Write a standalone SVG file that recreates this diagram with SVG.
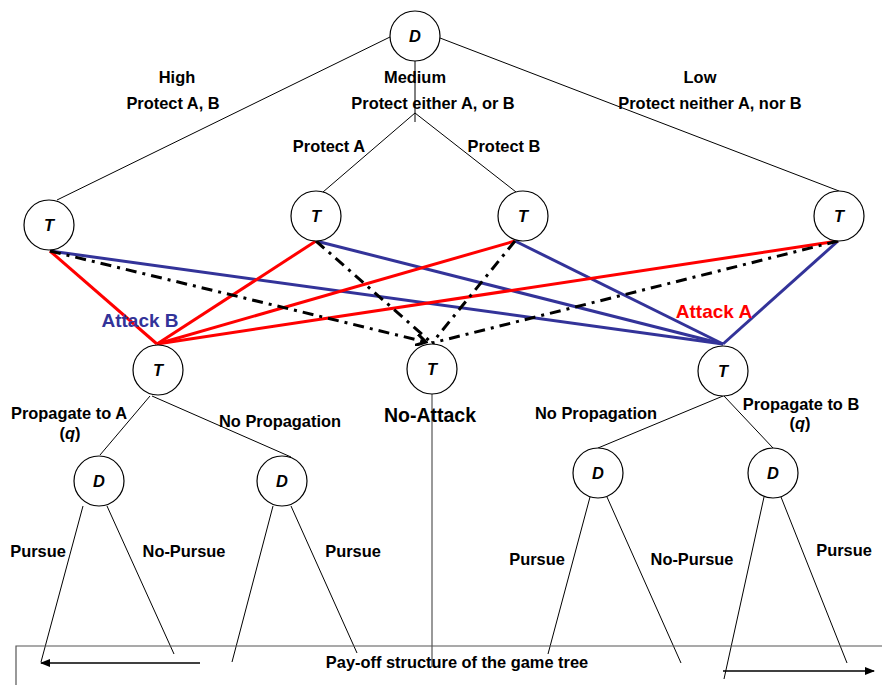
<svg xmlns="http://www.w3.org/2000/svg" width="882" height="685" viewBox="0 0 882 685">
<style>
text{font-family:"Liberation Sans",Arial,sans-serif;font-weight:bold;font-size:16.4px;fill:#000;text-anchor:middle}
.n circle{fill:#fff;stroke:#000;stroke-width:1.2}
.n text{font-style:italic}
.e{stroke:#000;stroke-width:1;fill:none}
.r{stroke:#ff0000;stroke-width:3;fill:none}
.b{stroke:#333399;stroke-width:3;fill:none}
.k{stroke:#000;stroke-width:3;fill:none;stroke-dasharray:11 6 3 6}
.g{stroke:#555;stroke-width:1.2;fill:none}
</style>
<defs>
<marker id="ah" markerWidth="10" markerHeight="8" refX="9" refY="4" orient="auto" markerUnits="userSpaceOnUse">
<path d="M0,0 L10,4 L0,8 Z" fill="#000"/>
</marker>
<marker id="oh" markerWidth="12" markerHeight="12" refX="10" refY="6" orient="auto" markerUnits="userSpaceOnUse">
<path d="M0,0 L10,6 L0,12" fill="none" stroke="#000" stroke-width="3"/>
</marker>
</defs>
<g id="connectors">
<line class="e" x1="390" y1="37" x2="57" y2="200"/>
<line class="e" x1="415" y1="61" x2="415" y2="122"/>
<line class="e" x1="415" y1="113" x2="323" y2="192"/>
<line class="e" x1="415" y1="113" x2="516" y2="192"/>
<line class="e" x1="440" y1="38" x2="839" y2="191"/>
<line class="b" x1="50" y1="251" x2="723" y2="344"/>
<line class="b" x1="316" y1="241" x2="723" y2="344"/>
<line class="b" x1="515" y1="241" x2="723" y2="344"/>
<line class="b" x1="838" y1="241" x2="723" y2="344"/>
<line class="r" x1="50" y1="251" x2="157" y2="344"/>
<line class="r" x1="316" y1="241" x2="157" y2="344"/>
<line class="r" x1="515" y1="241" x2="157" y2="344"/>
<line class="r" x1="838" y1="241" x2="157" y2="344"/>
<line class="k" x1="50" y1="251" x2="426" y2="342" marker-end="url(#oh)"/>
<line class="k" x1="316" y1="241" x2="432" y2="343"/>
<line class="k" x1="515" y1="241" x2="432" y2="343"/>
<line class="k" x1="838" y1="241" x2="432" y2="343"/>
<line class="e" x1="150" y1="396" x2="100" y2="455"/>
<line class="e" x1="152" y1="396" x2="291" y2="457"/>
<line class="e" x1="723" y1="396" x2="598" y2="448"/>
<line class="e" x1="724" y1="396" x2="773" y2="448"/>
<line class="g" x1="432" y1="394" x2="432" y2="667"/>
<line class="e" x1="83" y1="506" x2="41" y2="662"/>
<line class="e" x1="107" y1="506" x2="174" y2="654"/>
<line class="e" x1="273" y1="506" x2="232" y2="662"/>
<line class="e" x1="291" y1="506" x2="357" y2="653"/>
<line class="e" x1="590" y1="497" x2="548" y2="654"/>
<line class="e" x1="607" y1="497" x2="681" y2="663"/>
<line class="e" x1="764" y1="497" x2="724" y2="679"/>
<line class="e" x1="781" y1="497" x2="847" y2="663"/>
<line x1="200" y1="663" x2="41" y2="663" stroke="#000" stroke-width="1.5" marker-end="url(#ah)"/>
<line x1="723" y1="671" x2="874" y2="671" stroke="#000" stroke-width="1.5" marker-end="url(#ah)"/>
<polyline class="g" points="16,685 16,646 882,646"/>
</g>
<g id="D0" class="n"><circle cx="415" cy="36" r="25"/><text x="415" y="42">D</text></g>
<g id="T1" class="n"><circle cx="49" cy="225" r="25"/><text x="49" y="231">T</text></g>
<g id="T2" class="n"><circle cx="316" cy="216" r="25"/><text x="316" y="222">T</text></g>
<g id="T3" class="n"><circle cx="523" cy="216" r="25"/><text x="523" y="222">T</text></g>
<g id="T4" class="n"><circle cx="839" cy="216" r="25"/><text x="839" y="222">T</text></g>
<g id="TL" class="n"><circle cx="158" cy="370" r="25"/><text x="158" y="376">T</text></g>
<g id="TM" class="n"><circle cx="432" cy="369" r="25"/><text x="432" y="375">T</text></g>
<g id="TR" class="n"><circle cx="723" cy="371" r="25"/><text x="723" y="377">T</text></g>
<g id="DL1" class="n"><circle cx="99" cy="481" r="25"/><text x="99" y="487">D</text></g>
<g id="DL2" class="n"><circle cx="282" cy="481" r="25"/><text x="282" y="487">D</text></g>
<g id="DR1" class="n"><circle cx="598" cy="473" r="25"/><text x="598" y="479">D</text></g>
<g id="DR2" class="n"><circle cx="773" cy="473" r="25"/><text x="773" y="479">D</text></g>
<g id="labels">
<text x="177" y="83">High</text>
<text x="173" y="109">Protect A, B</text>
<text x="415" y="83">Medium</text>
<text x="433" y="109">Protect either A, or B</text>
<text x="700" y="83">Low</text>
<text x="710" y="109">Protect neither A, nor B</text>
<text x="329" y="152">Protect A</text>
<text x="504" y="152">Protect B</text>
<text x="140" y="327" style="font-size:19px;fill:#333399">Attack B</text>
<text x="714" y="318" style="font-size:19px;fill:#ff0000">Attack A</text>
<text x="69" y="419">Propagate to A</text>
<text x="70" y="439">(<tspan font-style="italic">q</tspan>)</text>
<text x="280" y="427">No Propagation</text>
<text x="430" y="422" style="font-size:19.5px">No-Attack</text>
<text x="596" y="419">No Propagation</text>
<text x="801" y="410">Propagate to B</text>
<text x="800" y="429">(<tspan font-style="italic">q</tspan>)</text>
<text x="38" y="557">Pursue</text>
<text x="184" y="557">No-Pursue</text>
<text x="353" y="557">Pursue</text>
<text x="537" y="565">Pursue</text>
<text x="692" y="565">No-Pursue</text>
<text x="844" y="556">Pursue</text>
<text x="457" y="668">Pay-off structure of the game tree</text>
</g>
</svg>
